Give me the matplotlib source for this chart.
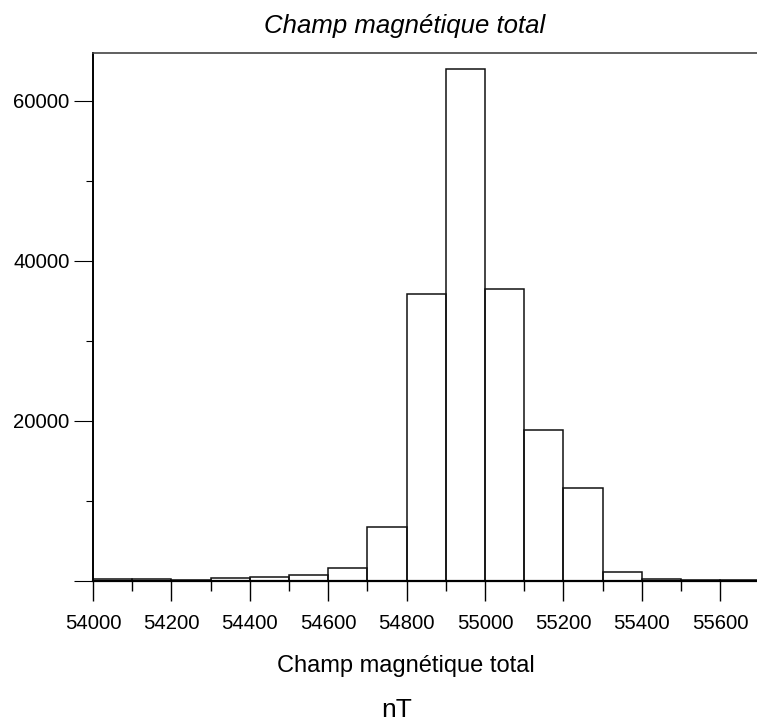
"""Histogram of the total magnetic field (nT), outlined bars."""

import matplotlib
matplotlib.use("Agg")
import matplotlib.pyplot as plt
import numpy as np
from matplotlib.ticker import FixedLocator

# bin left edges (nT), 100 nT wide, and counts
BIN_LEFT = [54000, 54100, 54200, 54300, 54400, 54500, 54600, 54700, 54800,
            54900, 55000, 55100, 55200, 55300, 55400, 55500, 55600]
COUNTS = [150, 150, 100, 300, 400, 650, 1550, 6700, 35800,
          64000, 36500, 18800, 11600, 1100, 150, 100, 100]
BIN_WIDTH = 100

X_MAJOR = [54000, 54200, 54400, 54600, 54800, 55000, 55200, 55400, 55600]
X_MINOR = [54100, 54300, 54500, 54700, 54900, 55100, 55300, 55500]
Y_MAJOR = [0, 20000, 40000, 60000]
Y_LABELS = ["", "20000", "40000", "60000"]
Y_MINOR = [10000, 30000, 50000]

TITLE = "Champ magnétique total"
XLABEL = "Champ magnétique total"
UNIT = "nT"

W, H = 757, 722


def main() -> None:
    plt.rcParams.update({"font.family": ["Liberation Sans", "DejaVu Sans"], "font.size": 14})
    fig = plt.figure(figsize=(W / 100, H / 100), dpi=100)
    ax = fig.add_axes([93 / W, 1 - 580.5 / H, (W - 93) / W, (580.5 - 53) / H])

    ax.bar(np.array(BIN_LEFT), COUNTS, width=BIN_WIDTH, align="edge",
           fill=False, edgecolor="#111111", linewidth=1.1)
    ax.set_xlim(54000, 54000 + (W - 93) / 0.392)
    ax.set_ylim(0, 527.5 / 0.008)

    ax.xaxis.set_major_locator(FixedLocator(X_MAJOR))
    ax.xaxis.set_minor_locator(FixedLocator(X_MINOR))
    ax.set_yticks(Y_MAJOR, Y_LABELS)
    ax.yaxis.set_minor_locator(FixedLocator(Y_MINOR))
    ax.tick_params(axis="x", which="major", direction="out", length=14.4, width=1, pad=9.5, labelsize=14.6)
    ax.tick_params(axis="x", which="minor", direction="out", length=7, width=1)
    ax.tick_params(axis="y", which="major", direction="out", length=14, width=0.8, pad=3, labelsize=14.6)
    ax.tick_params(axis="y", which="minor", direction="out", length=5, width=0.8)

    ax.spines["right"].set_visible(False)
    ax.spines["top"].set_color("#444444")
    ax.spines["top"].set_linewidth(1.2)
    ax.spines["left"].set_linewidth(1.4)
    ax.spines["bottom"].set_linewidth(1.6)

    fig.text(405 / W, 1 - 33 / H, TITLE, ha="center", va="baseline", fontsize=18.5, style="italic")
    fig.text(406 / W, 1 - 672 / H, XLABEL, ha="center", va="baseline", fontsize=17)
    fig.text(397 / W, 1 - 717 / H, UNIT, ha="center", va="baseline", fontsize=19)

    fig.savefig("out.png", dpi=100)
    plt.close(fig)


if __name__ == "__main__":
    main()
